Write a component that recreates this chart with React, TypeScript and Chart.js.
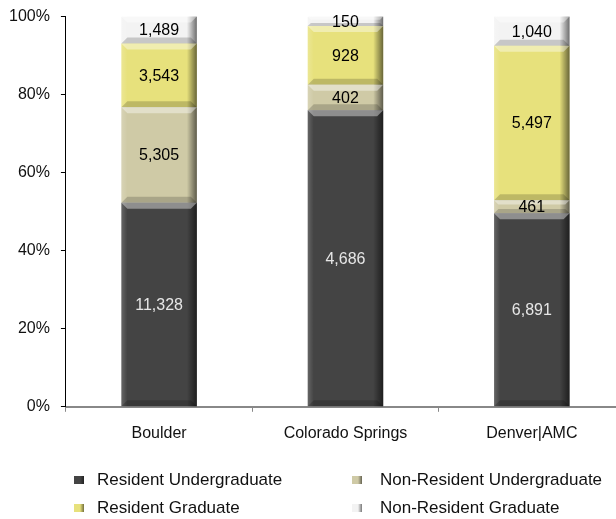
import React, { useEffect, useRef } from 'react';
import { Chart, registerables } from 'chart.js';

Chart.register(...registerables);

const categories = ['Boulder', 'Colorado Springs', 'Denver|AMC'];
const residentUndergraduate = [11328, 4686, 6891];
const nonResidentUndergraduate = [5305, 402, 461];
const residentGraduate = [3543, 928, 5497];
const nonResidentGraduate = [1489, 150, 1040];
const seriesNames = [
  'Resident Undergraduate',
  'Non-Resident Undergraduate',
  'Resident Graduate',
  'Non-Resident Graduate',
];
const seriesColors = ['#444444', '#cfcaa6', '#e7e17c', '#f3f3f3'];
const labelColors = ['#e6e6e6', '#000000', '#000000', '#000000'];
const yTickValues = [0, 20, 40, 60, 80, 100];

const FONT = "'Liberation Sans', Arial, sans-serif";

const seriesValues = [
  residentUndergraduate,
  nonResidentUndergraduate,
  residentGraduate,
  nonResidentGraduate,
];

const totals = categories.map((_, i) =>
  seriesValues.reduce((s, arr) => s + arr[i], 0)
);

const bevelPlugin = {
  id: 'bevel',
  afterDatasetsDraw(chart: any) {
    const ctx = chart.ctx;
    ctx.save();
    chart.data.datasets.forEach((ds: any, di: number) => {
      const meta = chart.getDatasetMeta(di);
      meta.data.forEach((el: any) => {
        const p = el.getProps(['x', 'y', 'base', 'width'], true);
        const left = p.x - p.width / 2;
        const right = p.x + p.width / 2;
        const top = Math.min(p.y, p.base);
        const bottom = Math.max(p.y, p.base);
        const h = bottom - top;
        const b = Math.min(6, h / 3);
        const g = ctx.createLinearGradient(right - 10, 0, right, 0);
        g.addColorStop(0, 'rgba(0,0,0,0)');
        g.addColorStop(1, 'rgba(0,0,0,0.55)');
        ctx.fillStyle = g;
        ctx.fillRect(right - 10, top, 10, h);
        const g2 = ctx.createLinearGradient(left, 0, left + 6, 0);
        g2.addColorStop(0, 'rgba(255,255,255,0.18)');
        g2.addColorStop(1, 'rgba(255,255,255,0)');
        ctx.fillStyle = g2;
        ctx.fillRect(left, top, 6, h);
        ctx.fillStyle = 'rgba(255,255,255,0.4)';
        ctx.beginPath();
        ctx.moveTo(left, top);
        ctx.lineTo(right, top);
        ctx.lineTo(right - b, top + b);
        ctx.lineTo(left + b, top + b);
        ctx.closePath();
        ctx.fill();
        ctx.fillStyle = 'rgba(0,0,0,0.18)';
        ctx.beginPath();
        ctx.moveTo(left, bottom);
        ctx.lineTo(right, bottom);
        ctx.lineTo(right - b, bottom - b);
        ctx.lineTo(left + b, bottom - b);
        ctx.closePath();
        ctx.fill();
      });
    });
    ctx.restore();
  },
};

const valueLabelPlugin = {
  id: 'valueLabels',
  afterDatasetsDraw(chart: any) {
    const ctx = chart.ctx;
    ctx.save();
    ctx.font = `16px ${FONT}`;
    ctx.textAlign = 'center';
    ctx.textBaseline = 'middle';
    chart.data.datasets.forEach((ds: any, di: number) => {
      const meta = chart.getDatasetMeta(di);
      meta.data.forEach((el: any, i: number) => {
        const p = el.getProps(['x', 'y', 'base'], true);
        const raw = seriesValues[di][i];
        ctx.fillStyle = labelColors[di];
        ctx.fillText(raw.toLocaleString('en-US'), p.x, (p.y + p.base) / 2 + 1);
      });
    });
    ctx.restore();
  },
};

const legendPlugin = {
  id: 'gridLegend',
  afterDraw(chart: any) {
    const ctx = chart.ctx;
    ctx.save();
    ctx.font = `17px ${FONT}`;
    ctx.textBaseline = 'middle';
    ctx.textAlign = 'left';
    const cols = [76, 354];
    const textCols = [99, 382];
    const rows = [484, 512];
    seriesNames.forEach((name, i) => {
      const col = i % 2;
      const row = Math.floor(i / 2);
      const bx = cols[col];
      const by = rows[row] - 4;
      const g = ctx.createLinearGradient(bx, 0, bx + 10, 0);
      g.addColorStop(0, 'rgba(0,0,0,0)');
      g.addColorStop(0.6, 'rgba(0,0,0,0)');
      g.addColorStop(1, 'rgba(0,0,0,0.5)');
      ctx.fillStyle = seriesColors[i];
      ctx.fillRect(bx, by, 10, 8);
      ctx.fillStyle = g;
      ctx.fillRect(bx, by, 10, 8);
      ctx.fillStyle = '#111';
      ctx.fillText(name, textCols[col], rows[row]);
    });
    ctx.restore();
  },
};

export default function App() {
  const ref = useRef<HTMLCanvasElement | null>(null);

  useEffect(() => {
    if (!ref.current) return;
    const chart = new Chart(ref.current, {
      type: 'bar',
      data: {
        labels: categories,
        datasets: seriesValues.map((vals, di) => ({
          label: seriesNames[di],
          data: vals.map((v, i) => (v / totals[i]) * 100),
          backgroundColor: seriesColors[di],
          borderWidth: 0,
          barPercentage: 1,
          categoryPercentage: 0.405,
        })),
      },
      options: {
        animation: false,
        responsive: false,
        layout: { padding: { left: 0, right: 7, top: 8, bottom: 64 } },
        plugins: {
          legend: { display: false },
          tooltip: { enabled: false },
          title: { display: false },
        },
        scales: {
          x: {
            stacked: true,
            offset: true,
            grid: {
              display: true,
              drawOnChartArea: false,
              drawTicks: true,
              tickLength: 5,
              offset: true,
              color: '#888888',
              tickColor: '#888888',
            },
            border: { display: true, color: '#888888', width: 2 },
            ticks: {
              color: '#111',
              padding: 12,
              font: { family: FONT, size: 16 },
            },
          },
          y: {
            stacked: true,
            min: 0,
            max: 100,
            afterBuildTicks: (axis: any) => {
              axis.ticks = yTickValues.map((v) => ({ value: v }));
            },
            grid: {
              display: true,
              drawOnChartArea: false,
              drawTicks: true,
              tickLength: 5,
              color: '#000',
              tickColor: '#000',
            },
            border: { display: true, color: '#000', width: 1 },
            ticks: {
              color: '#111',
              padding: 11,
              font: { family: FONT, size: 16 },
              callback: (v: any) => `${v}%`,
            },
          },
        },
      },
      plugins: [bevelPlugin, valueLabelPlugin, legendPlugin],
    });
    return () => chart.destroy();
  }, []);

  return (
    <div
      style={{
        position: 'fixed',
        left: 0,
        top: 0,
        width: 616,
        height: 519,
        overflow: 'hidden',
        background: '#fff',
      }}
    >
      <canvas
        ref={ref}
        width={634}
        height={523}
        style={{ display: 'block', marginLeft: -2, marginTop: -4 }}
      />
    </div>
  );
}
